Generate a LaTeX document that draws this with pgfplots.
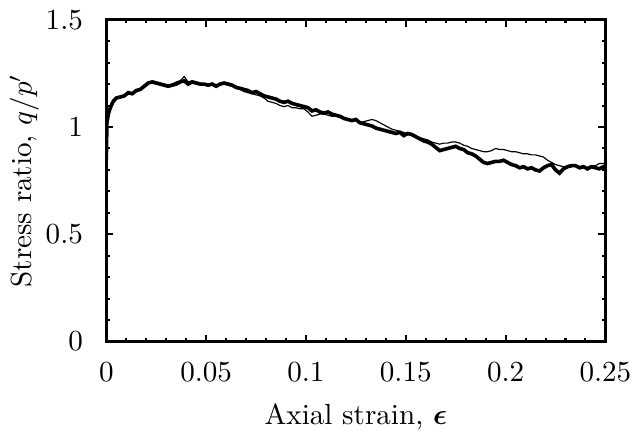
\documentclass[border=0pt]{standalone}
\usepackage{amsmath,amssymb,bm}
\usepackage{pgfplots}
\pgfplotsset{compat=1.18}

\begin{document}
\begin{tikzpicture}
\begin{axis}[
  scale only axis,
  width=171.5pt,height=110.6pt,
  xmin=0,xmax=0.25,ymin=0,ymax=1.5,
  xtick={0,0.05,0.1,0.15,0.2,0.25},
  xticklabels={0,0.05,0.1,0.15,0.2,0.25},
  ytick={0,0.5,1,1.5},
  yticklabels={0,0.5,1,1.5},
  minor x tick num=4,minor y tick num=4,
  tick align=inside,
  major tick length=2.4pt,minor tick length=1.2pt,
  every tick/.style={black,line width=0.7pt},
  axis line style={line width=1pt},
  xticklabel style={yshift=-3.5pt},
  yticklabel style={xshift=-4.5pt},
  xlabel={Axial strain, $\bm{\epsilon}$},
  ylabel={Stress ratio, $q/p'$},
  xlabel style={yshift=-0.5pt},
  ylabel shift=-4.5pt,
]
% thin series
\addplot[black,line width=0.4pt] coordinates {
(0,0.85)(0.0003,1.02)(0.001,1.06)(0.002,1.09)(0.0035,1.12)(0.005,1.13)(0.007,1.14)
(0.009,1.15)(0.011,1.155)(0.013,1.16)(0.015,1.165)(0.017,1.18)(0.019,1.185)(0.021,1.2)
(0.023,1.215)(0.025,1.21)(0.027,1.205)(0.029,1.2)(0.031,1.195)(0.033,1.2)(0.035,1.21)
(0.037,1.215)(0.039,1.235)(0.041,1.21)(0.043,1.215)(0.045,1.21)(0.047,1.205)(0.049,1.2)
(0.051,1.2)(0.053,1.195)(0.055,1.19)(0.057,1.2)(0.059,1.2)(0.061,1.195)(0.063,1.19)
(0.065,1.18)(0.067,1.175)(0.069,1.165)(0.071,1.16)(0.073,1.155)(0.075,1.15)(0.077,1.145)
(0.079,1.135)(0.081,1.12)(0.083,1.115)(0.085,1.11)(0.087,1.1)(0.089,1.095)(0.091,1.1)
(0.093,1.09)(0.095,1.09)(0.097,1.085)(0.099,1.085)(0.101,1.07)(0.103,1.05)(0.105,1.055)
(0.107,1.06)(0.109,1.06)(0.111,1.055)(0.113,1.05)(0.115,1.05)(0.117,1.045)(0.119,1.04)
(0.121,1.035)(0.123,1.03)(0.125,1.03)(0.127,1.02)(0.129,1.025)(0.131,1.03)(0.133,1.035)
(0.135,1.03)(0.137,1.02)(0.139,1.01)(0.141,1.0)(0.143,0.99)(0.145,0.985)(0.147,0.98)
(0.149,0.975)(0.151,0.965)(0.153,0.96)(0.155,0.955)(0.157,0.95)(0.159,0.945)(0.161,0.94)
(0.163,0.93)(0.165,0.925)(0.167,0.92)(0.169,0.925)(0.171,0.925)(0.173,0.93)(0.175,0.93)
(0.177,0.925)(0.179,0.915)(0.181,0.91)(0.183,0.9)(0.185,0.895)(0.187,0.89)(0.189,0.885)
(0.191,0.885)(0.193,0.89)(0.195,0.9)(0.197,0.895)(0.199,0.895)(0.201,0.89)(0.203,0.885)
(0.205,0.885)(0.207,0.88)(0.209,0.875)(0.211,0.875)(0.213,0.87)(0.215,0.87)(0.217,0.865)
(0.219,0.86)(0.221,0.845)(0.223,0.835)(0.225,0.825)(0.227,0.82)(0.229,0.815)(0.231,0.81)
(0.233,0.815)(0.235,0.82)(0.237,0.815)(0.239,0.815)(0.241,0.81)(0.243,0.82)(0.245,0.82)
(0.247,0.83)(0.249,0.83)(0.25,0.83)
};
% thick series
\addplot[black,line width=1.25pt] coordinates {
(0,0.85)(0.0003,1.02)(0.001,1.06)(0.002,1.09)(0.0035,1.12)(0.005,1.135)(0.007,1.14)
(0.009,1.145)(0.011,1.16)(0.013,1.155)(0.015,1.17)(0.017,1.175)(0.019,1.19)(0.021,1.205)
(0.023,1.21)(0.025,1.205)(0.027,1.2)(0.029,1.195)(0.031,1.19)(0.033,1.195)(0.035,1.2)
(0.037,1.21)(0.039,1.215)(0.041,1.2)(0.043,1.21)(0.045,1.205)(0.047,1.2)(0.049,1.2)
(0.051,1.195)(0.053,1.2)(0.055,1.19)(0.057,1.2)(0.059,1.205)(0.061,1.2)(0.063,1.195)
(0.065,1.185)(0.067,1.18)(0.069,1.175)(0.071,1.17)(0.073,1.16)(0.075,1.165)(0.077,1.155)
(0.079,1.145)(0.081,1.14)(0.083,1.135)(0.085,1.13)(0.087,1.12)(0.089,1.115)(0.091,1.12)
(0.093,1.11)(0.095,1.105)(0.097,1.1)(0.099,1.095)(0.101,1.09)(0.103,1.075)(0.105,1.08)
(0.107,1.07)(0.109,1.065)(0.111,1.07)(0.113,1.06)(0.115,1.055)(0.117,1.05)(0.119,1.04)
(0.121,1.035)(0.123,1.03)(0.125,1.035)(0.127,1.02)(0.129,1.015)(0.131,1.01)(0.133,1.005)
(0.135,0.995)(0.137,0.99)(0.139,0.985)(0.141,0.98)(0.143,0.975)(0.145,0.97)(0.147,0.975)
(0.149,0.96)(0.151,0.97)(0.153,0.965)(0.155,0.955)(0.157,0.945)(0.159,0.935)(0.161,0.93)
(0.163,0.92)(0.165,0.905)(0.167,0.89)(0.169,0.895)(0.171,0.9)(0.173,0.905)(0.175,0.91)
(0.177,0.9)(0.179,0.895)(0.181,0.88)(0.183,0.875)(0.185,0.865)(0.187,0.85)(0.189,0.835)
(0.191,0.83)(0.193,0.835)(0.195,0.84)(0.197,0.84)(0.199,0.845)(0.201,0.835)(0.203,0.825)
(0.205,0.82)(0.207,0.81)(0.209,0.815)(0.211,0.805)(0.213,0.81)(0.215,0.8)(0.217,0.795)
(0.219,0.81)(0.221,0.82)(0.223,0.825)(0.225,0.8)(0.227,0.785)(0.229,0.805)(0.231,0.815)
(0.233,0.82)(0.235,0.82)(0.237,0.81)(0.239,0.815)(0.241,0.805)(0.243,0.815)(0.245,0.81)
(0.247,0.805)(0.249,0.815)(0.25,0.81)
};
\end{axis}
\end{tikzpicture}
\end{document}
